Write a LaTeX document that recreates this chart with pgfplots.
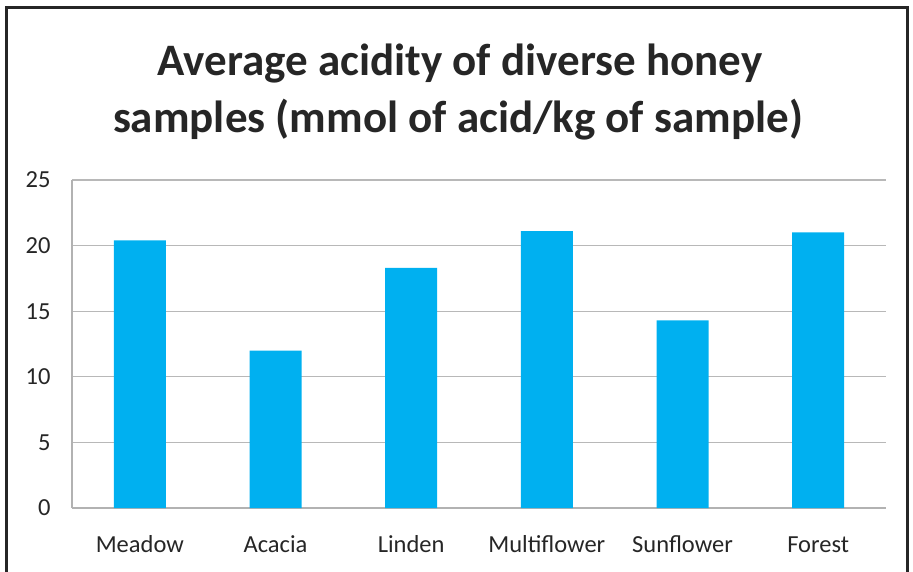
\documentclass[border=0pt]{standalone}
\usepackage{pgfplots}
\pgfplotsset{compat=1.18}
\usepackage{fontspec}
\setmainfont{Carlito}
\definecolor{barblue}{HTML}{00B0F0}
\definecolor{txt}{HTML}{262626}
\begin{document}
\begin{tikzpicture}[x=1pt,y=1pt]
\path[use as bounding box] (0,0) rectangle (913,571);
\draw[line width=3pt,color=txt] (6.5,-2) -- (6.5,563.5) -- (907.5,563.5) -- (907.5,-2);
\node[font=\bfseries\fontsize{45}{50}\selectfont,color=txt,anchor=base] at (460,571-76) {Average acidity of diverse honey};
\node[font=\bfseries\fontsize{45}{50}\selectfont,color=txt,anchor=base] at (458,571-133) {samples (mmol of acid/kg of sample)};
\begin{axis}[
  at={(72pt,63pt)}, anchor=south west,
  scale only axis, width=814pt, height=328pt,
  xmin=-0.5, xmax=5.5, ymin=0, ymax=25,
  ytick={0,5,10,15,20,25},
  xtick={0,1,2,3,4,5},
  xticklabels={Meadow,Acacia,Linden,Multiflower,Sunflower,Forest},
  axis lines*=left,
  axis line style={color=black!30, line width=1.2pt},
  ymajorgrids, grid style={color=black!28, line width=1.2pt},
  major tick length=0pt,
  tick label style={font=\fontsize{24.5}{28}\selectfont, color=txt},
  /pgf/number format/assume math mode=true,
  yticklabel style={xshift=-18pt},
  xticklabel style={anchor=base, yshift=-44pt},
  ybar, bar width=52pt,
]
\addplot[fill=barblue, draw=none] coordinates {(0,20.4) (1,12.0) (2,18.3) (3,21.1) (4,14.3) (5,21.0)};
\end{axis}
\end{tikzpicture}
\end{document}
